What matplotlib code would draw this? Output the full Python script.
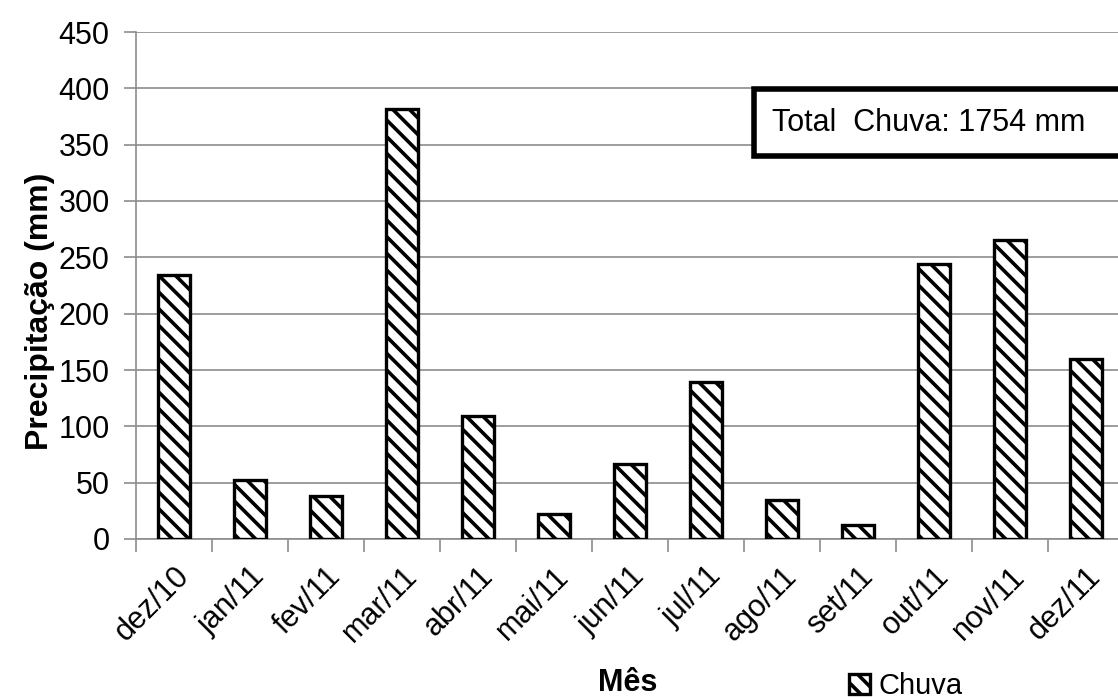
import numpy as np
import matplotlib
matplotlib.use("Agg")
import matplotlib.pyplot as plt
from matplotlib.patches import Patch, Rectangle

# dados
meses = ["dez/10", "jan/11", "fev/11", "mar/11", "abr/11", "mai/11", "jun/11",
         "jul/11", "ago/11", "set/11", "out/11", "nov/11", "dez/11"]
chuva = [234, 52, 38, 382, 109, 22, 67, 139, 35, 12, 244, 265, 160]
y_ticks = [0, 50, 100, 150, 200, 250, 300, 350, 400, 450]
total_txt = "Total  Chuva: 1754 mm"

plt.rcParams['font.family'] = ['Liberation Sans', 'DejaVu Sans']
plt.rcParams['hatch.linewidth'] = 2.6
plt.rcParams['hatch.color'] = 'black'

fig = plt.figure(figsize=(11.18, 6.98), dpi=100)
# o eixo continua além da borda direita (imagem original cortada)
ax = fig.add_axes([136 / 1118, 1 - 539 / 698, 988 / 1118, 507 / 698])

x = np.arange(len(meses))
ax.bar(x, chuva, width=0.41, color='white', edgecolor='black',
       linewidth=2.4, hatch='\\\\', zorder=3)

ax.set_xlim(-0.5, len(meses) - 0.5)
ax.set_ylim(0, 450)
ax.set_yticks(y_ticks)
ax.yaxis.grid(True, color='#8c8c8c', linewidth=1.2, zorder=0)

for s in ['top', 'right']:
    ax.spines[s].set_visible(False)
for s in ['left', 'bottom']:
    ax.spines[s].set_color('#8c8c8c')
    ax.spines[s].set_linewidth(1.2)

ax.tick_params(axis='y', labelsize=22, length=9, width=1.2, color='#8c8c8c', pad=10)

# marcas do eixo x entre as categorias, rótulos no centro
ax.set_xticks(x)
ax.set_xticks(np.arange(len(meses) + 1) - 0.5, minor=True)
ax.tick_params(axis='x', which='major', length=0, pad=16)
ax.tick_params(axis='x', which='minor', length=9, width=1.2, color='#8c8c8c')
ax.set_xticklabels(meses, rotation=45, ha='right', va='top',
                   rotation_mode='anchor', fontsize=22)

ax.set_ylabel("Precipitação (mm)", fontsize=23, fontweight='bold')
ax.yaxis.set_label_coords(-0.082, (539 - 311) / 507)
fig.text(628 / 1118, 1 - 683 / 698, "Mês", fontsize=22, fontweight='bold',
         ha='center', va='center')

# legenda
leg = fig.legend(handles=[Patch(facecolor='white', edgecolor='black', hatch='\\\\',
                                linewidth=2.4)],
                 labels=["Chuva"], loc='center', bbox_to_anchor=(906 / 1118, 1 - 686 / 698),
                 frameon=False, fontsize=21, handlelength=0.7, handleheight=0.7,
                 handletextpad=0.3)

# caixa com o total
fig.patches.append(Rectangle((754 / 1118, 1 - 156 / 698), 0.4, 67 / 698,
                             transform=fig.transFigure, facecolor='white',
                             edgecolor='black', linewidth=4, zorder=5))
fig.text(772 / 1118, 1 - 123 / 698, total_txt, fontsize=22, ha='left',
         va='center', zorder=6)

fig.savefig("out.png", dpi=100)
